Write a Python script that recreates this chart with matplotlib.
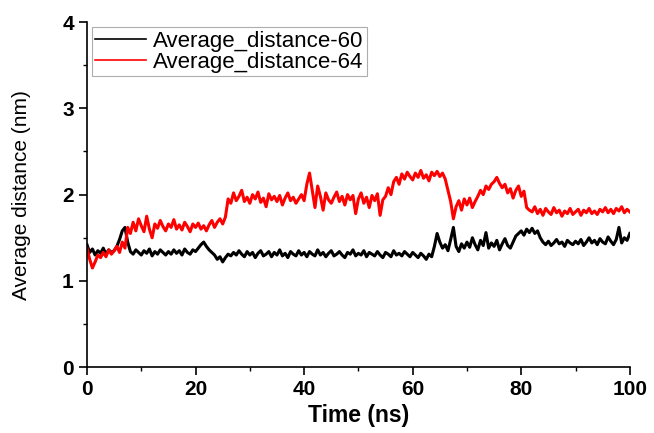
import numpy as np
import matplotlib
matplotlib.use("Agg")
from matplotlib import pyplot as plt
from matplotlib.ticker import MultipleLocator

# time axis, one value every 0.5 ns
time_ns = np.arange(0, 100.01, 0.5)

# Average_distance-60 (black)
dist_60 = [
    1.42, 1.33, 1.37, 1.30, 1.35, 1.32, 1.38, 1.31, 1.36, 1.33,
    1.35, 1.40, 1.48, 1.58, 1.62, 1.45, 1.34, 1.31, 1.36, 1.33,
    1.30, 1.35, 1.32, 1.37, 1.29, 1.34, 1.31, 1.36, 1.33, 1.30,
    1.34, 1.31, 1.36, 1.32, 1.35, 1.30, 1.37, 1.33, 1.31, 1.36,
    1.34, 1.38, 1.42, 1.45, 1.40, 1.36, 1.33, 1.30, 1.25, 1.28,
    1.22, 1.27, 1.31, 1.29, 1.33, 1.30, 1.35, 1.31, 1.28, 1.34,
    1.30, 1.33, 1.27, 1.32, 1.35, 1.29, 1.31, 1.34, 1.28, 1.33,
    1.30, 1.36, 1.29, 1.32, 1.27, 1.34, 1.31, 1.29, 1.35, 1.30,
    1.33, 1.28, 1.34, 1.31, 1.29, 1.36, 1.30, 1.33, 1.28, 1.32,
    1.35, 1.29, 1.31, 1.34, 1.30, 1.27, 1.33, 1.31, 1.36, 1.29,
    1.32, 1.30, 1.35, 1.28, 1.33, 1.31, 1.29, 1.34, 1.30, 1.27,
    1.33, 1.31, 1.28, 1.35, 1.30, 1.32, 1.29, 1.34, 1.31, 1.28,
    1.33, 1.30, 1.27, 1.32, 1.29, 1.25, 1.31, 1.28, 1.40, 1.55,
    1.45, 1.38, 1.42, 1.35, 1.48, 1.62, 1.40, 1.34, 1.43, 1.38,
    1.45, 1.39, 1.50, 1.42, 1.36, 1.47, 1.41, 1.56, 1.38, 1.44,
    1.40, 1.47, 1.36, 1.43, 1.49, 1.41, 1.38, 1.45, 1.52, 1.55,
    1.58, 1.53, 1.60, 1.56, 1.61, 1.55, 1.58, 1.50, 1.45, 1.42,
    1.46, 1.41, 1.44, 1.48, 1.43, 1.45, 1.40, 1.47, 1.44, 1.42,
    1.46, 1.43, 1.48, 1.41, 1.45, 1.50, 1.44, 1.47, 1.42, 1.49,
    1.45, 1.43, 1.51, 1.46, 1.42, 1.48, 1.62, 1.44, 1.50, 1.47,
    1.55,
]

# Average_distance-64 (red)
dist_64 = [
    1.38, 1.25, 1.15, 1.22, 1.30, 1.27, 1.33, 1.28, 1.36, 1.31,
    1.35, 1.40, 1.33, 1.45, 1.38, 1.62, 1.55, 1.68, 1.58, 1.72,
    1.64, 1.57, 1.75, 1.60, 1.50, 1.66, 1.61, 1.70, 1.63, 1.58,
    1.66, 1.62, 1.71, 1.60, 1.65, 1.59, 1.68, 1.63, 1.57, 1.66,
    1.62, 1.67, 1.60, 1.64, 1.58, 1.65, 1.70, 1.62, 1.68, 1.72,
    1.66, 1.74, 1.95, 1.90, 2.02, 1.93, 1.98, 2.05, 1.92, 1.97,
    1.90, 2.00, 1.95, 2.03, 1.91, 1.96, 1.86, 2.01, 1.94, 1.98,
    1.92, 1.99, 1.88, 1.96, 2.02, 1.93, 1.97, 1.90, 1.95, 2.00,
    1.93, 2.12, 2.25, 2.05, 1.85, 2.10, 1.98, 1.82, 2.02, 1.94,
    1.90, 1.97, 2.03, 1.92, 1.98, 1.88, 2.00, 1.94, 1.99, 1.78,
    1.95, 2.02, 1.90, 1.97, 1.85, 1.99, 1.93, 2.01, 1.76, 1.94,
    1.98, 2.08, 2.00, 2.15, 2.20, 2.12, 2.24, 2.18, 2.26, 2.21,
    2.17, 2.25, 2.20, 2.28, 2.19, 2.23, 2.16, 2.26, 2.22, 2.27,
    2.21, 2.25, 2.18, 2.05, 1.92, 1.72, 1.86, 1.93, 1.82, 1.95,
    1.88, 1.96, 1.85, 1.92, 1.98, 2.05, 2.00, 2.10, 2.06, 2.12,
    2.15, 2.20, 2.13, 2.08, 2.12, 2.02, 2.07, 1.96, 2.05, 2.10,
    1.98, 2.04, 1.85, 1.82, 1.80, 1.86, 1.78, 1.83, 1.76, 1.84,
    1.80, 1.77, 1.85, 1.79, 1.82, 1.75, 1.81, 1.78, 1.84, 1.77,
    1.80, 1.83, 1.76, 1.82, 1.79, 1.84, 1.78, 1.81, 1.77, 1.83,
    1.80, 1.85, 1.79, 1.83, 1.78, 1.84, 1.81, 1.86, 1.79, 1.83,
    1.80,
]

labels = ['Average_distance-60', 'Average_distance-64']
colors = ['black', 'red']

plt.rcParams['font.family'] = ['Liberation Sans', 'DejaVu Sans']

fig = plt.figure(figsize=(6.54, 4.33), dpi=100)
ax = fig.add_axes([0.133, 0.152, 0.830, 0.797])

ax.plot(time_ns, dist_60, color=colors[0], lw=2.2, label=labels[0])
ax.plot(time_ns, dist_64, color=colors[1], lw=2.2, label=labels[1])

ax.set_xlim(0, 100)
ax.set_ylim(0, 4)
ax.xaxis.set_major_locator(MultipleLocator(20))
ax.xaxis.set_minor_locator(MultipleLocator(10))
ax.yaxis.set_major_locator(MultipleLocator(1))
ax.yaxis.set_minor_locator(MultipleLocator(0.5))

ax.spines['top'].set_visible(False)
ax.spines['right'].set_visible(False)
for s in ['left', 'bottom']:
    ax.spines[s].set_linewidth(1.2)

ax.tick_params(which='major', direction='out', length=6, width=1.2, labelsize=15)
ax.tick_params(which='minor', direction='out', length=3, width=1.0)
for t in ax.get_xticklabels() + ax.get_yticklabels():
    t.set_fontweight('bold')

ax.set_xlabel('Time (ns)', fontsize=16.5, fontweight='bold', labelpad=3)
ax.set_ylabel('Average distance (nm)', fontsize=15, labelpad=22)

leg = ax.legend(loc='upper left', bbox_to_anchor=(0.009, 0.985), borderaxespad=0,
                fontsize=16, handlelength=2.3, handletextpad=0.3,
                fancybox=False, frameon=True, borderpad=0.15, labelspacing=0.0)
leg.get_frame().set_edgecolor('#999999')
leg.get_frame().set_linewidth(0.8)
for line in leg.get_lines():
    line.set_linewidth(1.2)

fig.savefig('out.png', dpi=100)
